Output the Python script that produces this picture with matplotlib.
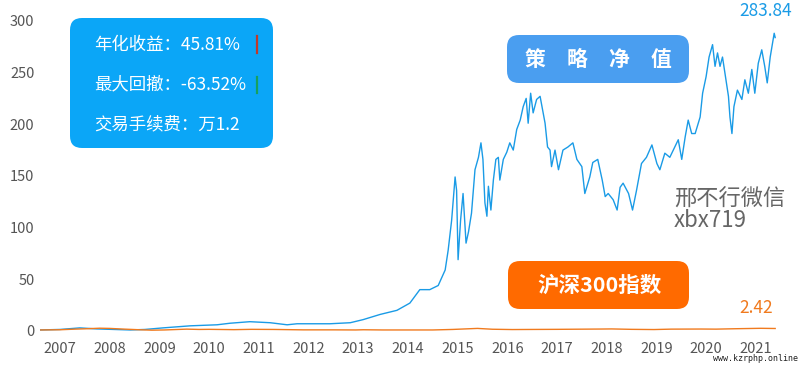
import matplotlib
matplotlib.use("Agg")
import matplotlib.pyplot as plt
from matplotlib.patches import FancyBboxPatch

plt.rcParams['font.family'] = ['Noto Sans CJK SC', 'DejaVu Sans']

# strategy net value (decimal year, value)
years = [2006.60, 2007.00, 2007.40, 2007.74, 2008.11, 2008.41, 2008.71, 2009.07, 2009.62, 2010.16,
         2010.42, 2010.82, 2011.23, 2011.57, 2011.77, 2012.43, 2012.84, 2013.10, 2013.44, 2013.78,
         2014.04, 2014.24, 2014.44, 2014.61,
         2014.75, 2014.81, 2014.88, 2014.95, 2014.98, 2015.01, 2015.06, 2015.11, 2015.17, 2015.22,
         2015.28, 2015.35, 2015.42, 2015.47, 2015.51, 2015.55, 2015.59, 2015.62, 2015.67, 2015.72,
         2015.77, 2015.82, 2015.85, 2015.92, 2015.99, 2016.05, 2016.12, 2016.19, 2016.26, 2016.32,
         2016.38, 2016.42, 2016.47, 2016.52, 2016.59, 2016.66, 2016.71, 2016.76, 2016.81, 2016.86,
         2016.89, 2016.96, 2017.03,
         2017.12, 2017.22, 2017.32, 2017.40, 2017.50, 2017.56, 2017.66, 2017.72, 2017.82, 2017.91,
         2017.97, 2018.03, 2018.13, 2018.21, 2018.27,
         2018.33, 2018.44, 2018.52, 2018.60, 2018.70, 2018.80, 2018.91, 2019.01, 2019.07, 2019.17,
         2019.27, 2019.37, 2019.44, 2019.51, 2019.58, 2019.64, 2019.71, 2019.78, 2019.88, 2019.93,
         2020.00, 2020.06, 2020.13, 2020.18, 2020.23, 2020.28, 2020.33, 2020.40, 2020.45, 2020.48,
         2020.52, 2020.56, 2020.63, 2020.72, 2020.78, 2020.85, 2020.92, 2020.98, 2021.05, 2021.12,
         2021.18, 2021.23, 2021.29, 2021.34, 2021.37, 2021.39]
strategy = [1.0, 1.5, 3, 2, 1.5, 1, 1.5, 3, 5, 6,
            7.5, 9, 8, 6, 7, 7, 8, 11, 16, 20,
            27, 40, 40, 44,
            59, 78, 107, 149, 136, 69, 107, 133, 85, 96,
            114, 156, 168, 182, 166, 124, 111, 140, 117, 146,
            166, 168, 146, 166, 173, 182, 175, 195, 204, 217,
            225, 201, 230, 211, 224, 227, 214, 201, 178, 175,
            159, 175, 156,
            175, 178, 182, 166, 159, 133, 149, 163, 166, 146,
            130, 133, 127, 117, 139,
            143, 133, 117, 136, 162, 168, 180, 162, 156, 172,
            168, 178, 185, 166, 188, 204, 191, 191, 207, 230,
            246, 265, 277, 256, 269, 256, 265, 243, 227, 207,
            191, 217, 233, 224, 243, 230, 253, 230, 259, 272,
            256, 240, 265, 279, 288, 283.84]

# CSI 300 normalised
idx_years = [2006.60, 2007.00, 2007.30, 2007.50, 2007.80, 2008.00, 2008.30, 2008.60, 2008.85, 2009.10,
             2009.55, 2009.80, 2010.00, 2010.50, 2010.85, 2011.30, 2011.90, 2012.50, 2012.95, 2013.10,
             2013.50, 2014.00, 2014.50, 2014.90, 2015.40, 2015.70, 2016.10, 2016.50, 2017.00, 2017.90,
             2018.10, 2018.50, 2018.95, 2019.30, 2019.90, 2020.20, 2020.60, 2021.10, 2021.39]
csi300 = [1.0, 1.2, 1.8, 2.1, 2.7, 2.5, 1.8, 1.2, 0.8, 1.0,
          1.8, 1.5, 1.6, 1.3, 1.6, 1.5, 1.1, 1.1, 1.0, 1.2,
          1.0, 1.0, 1.0, 1.5, 2.5, 1.7, 1.4, 1.5, 1.6, 1.9,
          2.0, 1.6, 1.4, 1.8, 1.9, 1.8, 2.2, 2.6, 2.42]

tick_years = list(range(2007, 2022))
blue = '#1a9be6'
orange = '#f07a1e'

fig = plt.figure(figsize=(8, 3.65), dpi=100)
ax = fig.add_axes([0.05, 0.079, 0.925, 0.878])
ax.plot(years, strategy, color=blue, lw=1.0)
ax.plot(idx_years, csi300, color=orange, lw=1.0)
ax.set_xlim(2006.598, 2021.487)
ax.set_ylim(-5, 305)
ax.set_xticks(tick_years)
ax.set_xticklabels([str(y) for y in tick_years])
ax.set_yticks([0, 50, 100, 150, 200, 250, 300])
ax.tick_params(length=0, labelsize=10.5, labelcolor='#555555', pad=4)
for s in ax.spines.values():
    s.set_visible(False)


def fx(px):
    return px / 800


def fy(py):
    return 1 - py / 365


def box(x0, y0, x1, y1, color):
    p = FancyBboxPatch((fx(x0), fy(y1)), fx(x1 - x0), (y1 - y0) / 365,
                       boxstyle='round,pad=0,rounding_size=0.015',
                       transform=fig.transFigure, fc=color, ec='none',
                       mutation_aspect=800 / 365)
    fig.add_artist(p)


# end value labels
fig.text(fx(739), fy(11), '%.2f' % strategy[-1], color=blue, fontsize=12.5, va='center')
fig.text(fx(739), fy(308), '%.2f' % csi300[-1], color=orange, fontsize=12.5, va='center')

# info box
box(70, 18, 273, 148, '#0ba6f7')
fig.text(fx(94), fy(45), '年化收益：45.81%', color='white', fontsize=12.5, va='center')
fig.text(fx(94), fy(84), '最大回撤：-63.52%', color='white', fontsize=12.5, va='center')
fig.text(fx(94), fy(124), '交易手续费：万1.2', color='white', fontsize=12.5, va='center')
fig.add_artist(plt.Line2D([fx(257), fx(257)], [fy(53), fy(36)], transform=fig.transFigure,
                          color='#c0392b', lw=1.6))
fig.add_artist(plt.Line2D([fx(257), fx(257)], [fy(77), fy(93)], transform=fig.transFigure,
                          color='#17a05d', lw=1.6))

box(507, 35, 689, 83, '#4a9ef0')
for cx, ch in zip([535, 577, 619, 661], '策略净值'):
    fig.text(fx(cx), fy(59), ch, color='white', fontsize=15, fontweight='bold',
             ha='center', va='center')

box(508, 261, 689, 309, '#ff6a00')
fig.text(fx(599), fy(285), '沪深300指数', color='white', fontsize=15.5, fontweight='bold',
         ha='center', va='center')

fig.text(fx(674), fy(199), '邢不行微信', color='#666666', fontsize=16, va='center')
fig.text(fx(674), fy(221), 'xbx719', color='#666666', fontsize=16, va='center')

fig.text(0.998, 0.005, 'www.kzrphp.online', color='#222222', fontsize=6, ha='right', va='bottom',
         family='DejaVu Sans Mono')

fig.savefig('out.png', dpi=100, facecolor='white')
